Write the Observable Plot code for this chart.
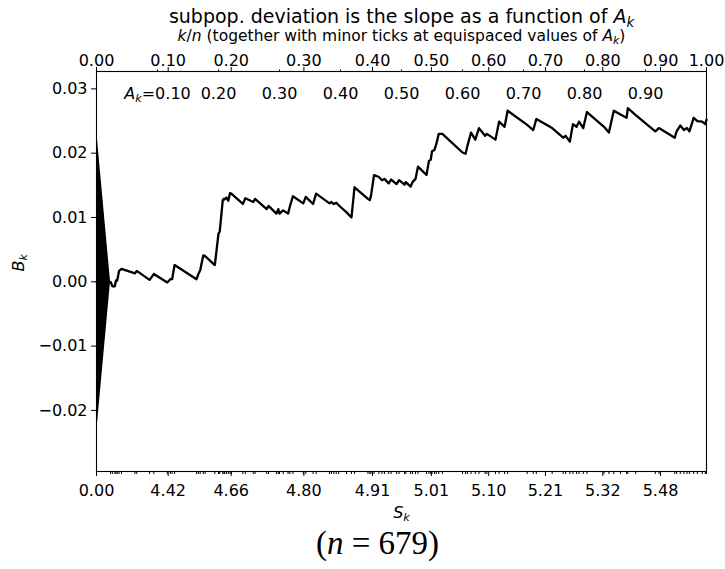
<!DOCTYPE html>
<html><head><meta charset="utf-8">
<script src="https://cdn.jsdelivr.net/npm/d3@7"></script>
<script src="https://cdn.jsdelivr.net/npm/@observablehq/plot@0.6"></script>
<style>html,body{margin:0;background:#fff;} svg{display:block;}</style>
</head><body><div id="chart"></div>
<script>
// cumulative curve: A_k (horizontal) and B_k (vertical)
const curveA = [0,0.023,0.026,0.030,0.032,0.034,0.037,0.041,0.063,0.066,0.087,0.094,0.116,0.121,0.124,0.128,0.164,0.167,0.170,0.175,0.178,0.194,0.200,0.202,0.207,0.209,0.210,0.213,0.216,0.219,0.221,0.240,0.244,0.257,0.260,0.279,0.282,0.295,0.298,0.300,0.306,0.314,0.317,0.322,0.339,0.343,0.355,0.360,0.382,0.385,0.389,0.393,0.397,0.410,0.418,0.423,0.445,0.448,0.450,0.455,0.463,0.468,0.472,0.479,0.483,0.492,0.496,0.505,0.507,0.515,0.518,0.523,0.527,0.541,0.545,0.548,0.550,0.554,0.557,0.561,0.567,0.600,0.605,0.608,0.614,0.621,0.627,0.637,0.640,0.654,0.660,0.669,0.674,0.706,0.716,0.721,0.747,0.765,0.769,0.776,0.781,0.787,0.791,0.798,0.804,0.832,0.840,0.848,0.859,0.869,0.871,0.884,0.916,0.922,0.948,0.951,0.957,0.963,0.968,0.972,0.979,0.985,0.993,0.998,1.000];
const curveB = [0,0.0000,-0.0007,-0.0007,0.0002,0.0002,0.0017,0.0020,0.0013,0.0017,0.0003,0.0012,-0.0001,0.0004,0.0004,0.0026,0.0004,0.0012,0.0018,0.0041,0.0040,0.0026,0.0075,0.0078,0.0127,0.0129,0.0128,0.0131,0.0126,0.0138,0.0137,0.0121,0.0130,0.0124,0.0129,0.0113,0.0118,0.0106,0.0113,0.0106,0.0111,0.0106,0.0117,0.0133,0.0122,0.0132,0.0121,0.0137,0.0122,0.0124,0.0121,0.0123,0.0119,0.0108,0.0100,0.0147,0.0129,0.0127,0.0134,0.0166,0.0163,0.0158,0.0160,0.0153,0.0159,0.0152,0.0158,0.0151,0.0155,0.0148,0.0155,0.0160,0.0179,0.0166,0.0188,0.0190,0.0203,0.0205,0.0214,0.0230,0.0230,0.0201,0.0199,0.0211,0.0232,0.0221,0.0239,0.0227,0.0230,0.0221,0.0249,0.0241,0.0266,0.0244,0.0236,0.0253,0.0239,0.0224,0.0227,0.0218,0.0245,0.0241,0.0249,0.0239,0.0264,0.0241,0.0232,0.0266,0.0260,0.0255,0.0270,0.0259,0.0234,0.0239,0.0224,0.0234,0.0243,0.0236,0.0239,0.0234,0.0255,0.0250,0.0249,0.0245,0.0252];

// top axis: k/n major ticks, placed at their A_k positions
const knLabels = ["0.00","0.10","0.20","0.30","0.40","0.50","0.60","0.70","0.80","0.90","1.00"];
const knA = [0,0.1175,0.2208,0.340,0.4525,0.549,0.643,0.736,0.830,0.9246,1];
// bottom axis: S_k values at the same positions
const skLabels = ["0.00","4.42","4.66","4.80","4.91","5.01","5.10","5.21","5.32","5.48"];
// equispaced A_k minor ticks and in-plot labels
const akA = [0.1,0.2,0.3,0.4,0.5,0.6,0.7,0.8,0.9];
const akLabels = ["0.10","0.20","0.30","0.40","0.50","0.60","0.70","0.80","0.90"];
const yTicks = [-0.02,-0.01,0,0.01,0.02,0.03];
// triangle at left
const triA = [0,0.023];
const triHalf = [0.0238,0];

const titleText = "subpop. deviation is the slope as a function of <i>A</i><sub>k</sub>";
const subtitleText = "<i>k</i>/<i>n</i> (together with minor ticks at equispaced values of <i>A</i><sub>k</sub>)";
const xLabel = "<i>S</i><sub>k</sub>";
const yLabel = "<i>B</i><sub>k</sub>";
const caption = "(<i>n</i> = 679)";

const curve = curveA.map((a,i)=>({a, b: curveB[i]}));
const tri = triA.map((a,i)=>({a, h: triHalf[i]}));
const fmt = d3.format(".2f");

const chart = Plot.plot({
  width: 725, height: 569,
  marginLeft: 96, marginRight: 19, marginTop: 71, marginBottom: 98,
  x: {domain: [0,1]},
  y: {domain: [-0.0295, 0.0327]},
  style: {fontFamily: "DejaVu Sans", fontSize: "16px", color: "black", background: "white"},
  marks: [
    Plot.areaY(tri, {x: "a", y1: d => -d.h, y2: d => d.h, fill: "black"}),
    Plot.line(curve, {x: "a", y: "b", stroke: "black", strokeWidth: 2.3, strokeLinejoin: "round"}),
    Plot.frame({stroke: "black", strokeWidth: 1.1}),
    Plot.axisY({ticks: yTicks, tickFormat: fmt, tickSize: 5, tickPadding: 4, label: null, fontSize: 16}),
    Plot.axisX({anchor: "top", ticks: knA, tickFormat: d => knLabels[knA.indexOf(d)], tickSize: 5, tickPadding: 1, label: null, fontSize: 16}),
    Plot.axisX({anchor: "top", ticks: akA, tickFormat: () => "", tickSize: 2.5, label: null}),
    Plot.axisX({anchor: "bottom", ticks: knA.slice(0,10), tickFormat: d => skLabels[knA.indexOf(d)], tickSize: 5, tickPadding: 8, label: null, fontSize: 16}),
    Plot.axisX({anchor: "bottom", ticks: curveA, tickFormat: () => "", tickSize: 3, label: null}),
    Plot.text(akLabels, {x: (d,i) => akA[i], frameAnchor: "top", dy: 16, fontSize: 16,
      text: (d,i) => i === 0 ? "<i>A</i><sub>k</sub>=" + d : d}),
    Plot.text([titleText], {frameAnchor: "top", dy: -62, fontSize: 19}),
    Plot.text([subtitleText], {frameAnchor: "top", dy: -42, fontSize: 15.5}),
    Plot.text([xLabel], {frameAnchor: "bottom", dy: 46, fontSize: 16}),
    Plot.text([yLabel], {frameAnchor: "left", dx: -78, rotate: -90, fontSize: 16}),
    Plot.text([caption], {frameAnchor: "bottom", dy: 82, dx: -24, fontSize: 33, fontFamily: "Liberation Serif"})
  ]
});
document.getElementById("chart").appendChild(chart);

// turn <i>..</i> and <sub>..</sub> markers into tspans
d3.select(chart).selectAll("text").each(function(){
  const el = this;
  const s = el.textContent;
  if (!/<(i|sub)>/.test(s)) return;
  const fs = parseFloat(getComputedStyle(el).fontSize) || 16;
  const shift = 0.22 * fs;
  const parts = [];
  const re = /<(i|sub)>(.*?)<\/\1>/g;
  let last = 0, m;
  while ((m = re.exec(s))) {
    if (m.index > last) parts.push({t: s.slice(last, m.index), k: "plain"});
    parts.push({t: m[2], k: m[1]});
    last = re.lastIndex;
  }
  if (last < s.length) parts.push({t: s.slice(last), k: "plain"});
  while (el.firstChild) el.removeChild(el.firstChild);
  let shifted = false;
  for (const p of parts) {
    const ts = document.createElementNS("http://www.w3.org/2000/svg", "tspan");
    ts.textContent = p.t;
    if (p.k === "sub") {
      ts.setAttribute("font-style", "italic");
      ts.setAttribute("font-size", (0.7 * fs) + "px");
      ts.setAttribute("dy", shift);
      shifted = true;
    } else {
      if (p.k === "i") ts.setAttribute("font-style", "italic");
      if (shifted) { ts.setAttribute("dy", -shift); shifted = false; }
    }
    el.appendChild(ts);
  }
});
</script>
</body></html>
